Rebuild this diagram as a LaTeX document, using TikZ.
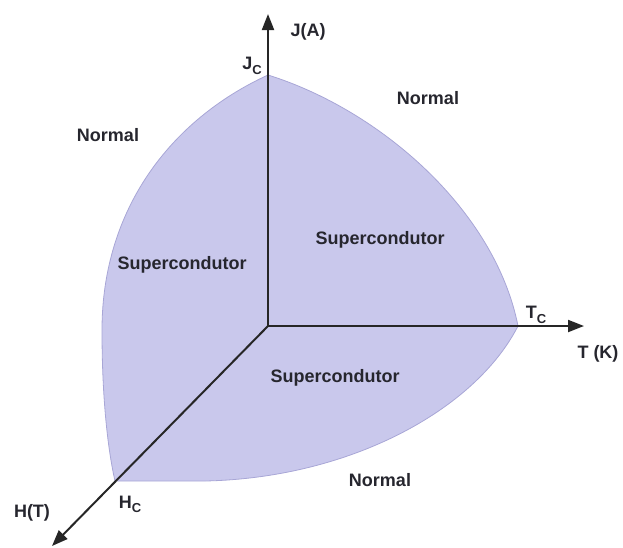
\documentclass[tikz,border=0pt]{standalone}
\usepackage{fontspec}
\setmainfont{Liberation Sans}
\usetikzlibrary{arrows.meta}
\definecolor{scfill}{RGB}{201,200,236}
\definecolor{scedge}{RGB}{168,166,214}
\definecolor{lblgray}{RGB}{38,38,46}
\newcommand{\critsub}[1]{\raisebox{-0.45ex}{\fontsize{13}{15}\selectfont #1}}
\begin{document}
\begin{tikzpicture}[x=1pt, y=-1pt,
  lbl/.style={font=\bfseries\fontsize{18}{21}\selectfont, text=lblgray, inner sep=0pt},
  axis/.style={line width=2pt, draw=black!85, -{Triangle[length=16pt, width=12pt]}}]
\useasboundingbox (0,0) rectangle (623,547);
\coordinate (O) at (268,326);
\coordinate (Jc) at (268,75);  \coordinate (Jtip) at (268,14);
\coordinate (Tc) at (518,326); \coordinate (Ttip) at (584,326);
\coordinate (Hc) at (115,481); \coordinate (Htip) at (52,546);
\filldraw[fill=scfill, draw=scedge, line width=0.8pt] (Jc) .. controls (380,110) and (495,210) .. (Tc)
  .. controls (475,410) and (350,478) .. (205,481) -- (Hc)
  .. controls (108,450) and (102,400) .. (102,330)
  .. controls (102,210) and (170,120) .. (Jc) -- cycle;
\draw[axis] (O) -- (Jtip);
\draw[axis] (O) -- (Ttip);
\draw[axis] (O) -- (Htip);
\node[lbl] (jlab) at (308,32) {J(A)};
\node[lbl] (jclab) at (252,66) {J\critsub{C}};
\node[lbl] (tclab) at (536,315) {T\critsub{C}};
\node[lbl] (tlab) at (598,354) {T (K)};
\node[lbl] (hclab) at (130,504) {H\critsub{C}};
\node[lbl] (hlab) at (32,513) {H(T)};
\node[lbl] (norm1) at (108,135) {Normal};
\node[lbl] (norm2) at (428,98) {Normal};
\node[lbl] (norm3) at (380,480) {Normal};
\node[lbl] (sc1) at (182,265) {Supercondutor};
\node[lbl] (sc2) at (380,240) {Supercondutor};
\node[lbl] (sc3) at (335,378) {Supercondutor};
\end{tikzpicture}
\end{document}
